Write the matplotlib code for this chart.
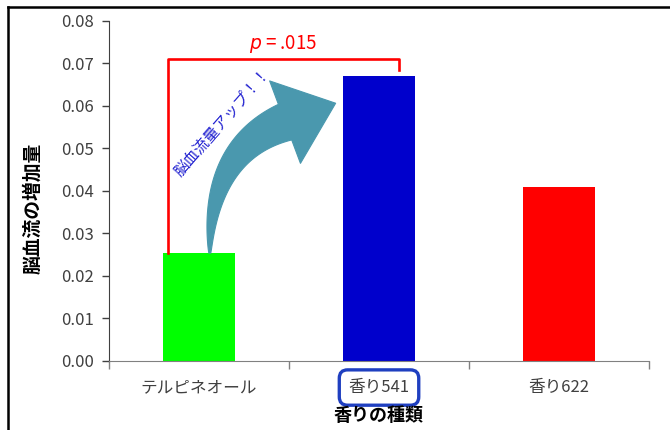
import matplotlib
matplotlib.use('Agg')
import matplotlib.pyplot as plt
import numpy as np
from matplotlib.patches import Polygon
from matplotlib.lines import Line2D

plt.rcParams['font.family'] = ['Noto Sans CJK JP', 'DejaVu Sans']

# data
categories = ['テルピネオール', '香り541', '香り622']
values = [0.0254, 0.0671, 0.0409]
colors = ['#00FF00', '#0000CC', '#FF0000']
yticks = [0.00, 0.01, 0.02, 0.03, 0.04, 0.05, 0.06, 0.07, 0.08]
p_label = '$p$ = .015'

fig = plt.figure(figsize=(6.7, 4.3), dpi=100)
ax = fig.add_axes([0.1627, 0.1605, 0.806, 0.7907])

x = np.arange(len(categories))
ax.bar(x, values, width=0.4, color=colors, zorder=2)

ax.set_xlim(-0.5, 2.5)
ax.set_ylim(0, 0.08)
ax.set_yticks(yticks)
ax.set_yticklabels(['%.2f' % v for v in yticks], fontsize=12, color='#404040')
ax.tick_params(axis='y', direction='out', length=5, width=1, color='#404040', pad=6)

# category labels sit between boundary ticks
ax.set_xticks(np.arange(-0.5, len(categories)), minor=False)
ax.set_xticklabels([])
ax.set_xticks(x, minor=True)
ax.set_xticklabels(categories, minor=True, fontsize=12, color='#404040')
ax.tick_params(axis='x', which='major', direction='out', length=6, width=1, color='#808080')
ax.tick_params(axis='x', which='minor', length=0, pad=13)

for s in ['top', 'right']:
    ax.spines[s].set_visible(False)
ax.spines['left'].set_color('#404040')
ax.spines['bottom'].set_color('#808080')

# box round the highlighted category
lbl = ax.get_xticklabels(minor=True)[1]
lbl.set_bbox(dict(boxstyle='round,pad=0.55,rounding_size=0.5', fc='none', ec='#1F3FC0', lw=2.4))

ax.set_ylabel('脳血流の増加量', fontsize=13.5, fontweight='bold')
ax.yaxis.set_label_coords(-0.124, 0.45)
ax.set_xlabel('香りの種類', fontsize=13, fontweight='bold', labelpad=7)

# significance bracket
bx0, bx1, by = -0.172, 1.111, 0.0711
ax.plot([bx0, bx0, bx1, bx1], [values[0], by, by, values[1] + 0.0014],
        color='#FF0000', lw=1.9, zorder=3, clip_on=False)
ax.text((bx0 + bx1) / 2, by + 0.0008, p_label, color='#FF0000', fontsize=13.5,
        ha='center', va='bottom')

# curved arrow: tapered body along a quadratic curve, then a triangular head
fig.canvas.draw()
td = ax.transData
p0 = td.transform((0.06, values[0]))
p1 = td.transform((0.061, 0.0496))
p2 = td.transform((0.478, 0.0562))
t = np.linspace(0, 1, 60)[:, None]
c = (1 - t) ** 2 * p0 + 2 * (1 - t) * t * p1 + t ** 2 * p2
d = 2 * (1 - t) * (p1 - p0) + 2 * t * (p2 - p1)
d = d / np.linalg.norm(d, axis=1)[:, None]
n = np.column_stack([-d[:, 1], d[:, 0]])
w = (2 + 36 * t[:, 0] ** 0.85)[:, None] / 2
left = c + n * w
right = c - n * w
de, ne = d[-1], n[-1]
head = [p2 + ne * 44, p2 + de * 54, p2 - ne * 44]
pts = np.vstack([left, head, right[::-1]])
pts = td.inverted().transform(pts)
ax.add_patch(Polygon(pts, closed=True, fc='#4A98AE', ec='#4A98AE', lw=0.8,
                     zorder=3, joinstyle='round'))
ax.text(0.13, 0.0562, '脳血流量アップ！！', rotation=49, color='#2020D0', fontsize=11,
        ha='center', va='center', zorder=4)

# outer frame
fig.add_artist(Line2D([8 / 670, 8 / 670], [0, 1 - 7 / 430], color='black', lw=1.8))
fig.add_artist(Line2D([8 / 670, 1], [1 - 7 / 430, 1 - 7 / 430], color='black', lw=1.8))

fig.savefig('out.png', dpi=100)
